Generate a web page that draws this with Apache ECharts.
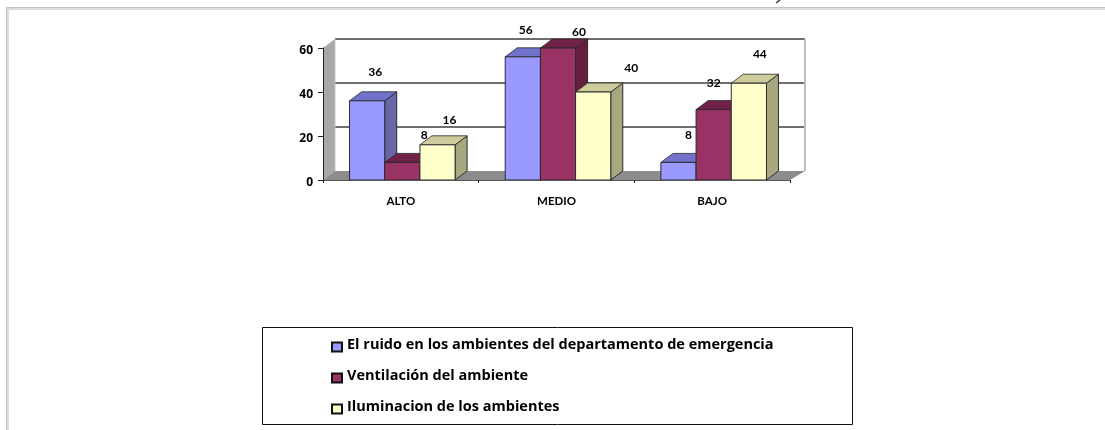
<!DOCTYPE html>
<html><head><meta charset="utf-8">
<style>html,body{margin:0;padding:0;background:#fff}#c{width:1105px;height:430px}#c canvas{filter:blur(.4px)}</style>
<script src="https://cdn.jsdelivr.net/npm/echarts@6/dist/echarts.min.js"></script>
</head><body><div id="c"></div>
<script>
const categories = ['ALTO', 'MEDIO', 'BAJO'];
const ruido = [36, 56, 8];
const ventilacion = [8, 60, 32];
const iluminacion = [16, 40, 44];
const seriesNames = ['El ruido en los ambientes del departamento de emergencia', 'Ventilación del ambiente', 'Iluminacion de los ambientes'];
const yTicks = [0, 20, 40, 60];
const labelNudgeRuido = [[8, -29], [3, -27], [10, -27]];
const labelNudgeVentilacion = [[22, -27], [21, -16], [0, -26]];
const labelNudgeIluminacion = [[12, -25], [38, -24], [11, -29]];

const DX = 12, DY = -9, BAR_RATIO = 0.226, BAR_SHIFT = 1.5;
const FONT = 'Lato, "Open Sans", sans-serif';
const palette = [
  {front:'#9999ff', top:'#7272cc', side:'#6666a8'},
  {front:'#993366', top:'#6f2148', side:'#66203f'},
  {front:'#ffffcc', top:'#cccc9c', side:'#a8a880'}
];
const poly = (pts, fill, stroke, lw) => ({type:'polygon', shape:{points:pts}, style:{fill, stroke: stroke||null, lineWidth: lw===undefined?1:lw}});
const line = (a, b, stroke, lw) => ({type:'line', shape:{x1:a[0],y1:a[1],x2:b[0],y2:b[1]}, style:{stroke, lineWidth:lw}});

function wallItem(params, api){
  const a = api.coord([0, 0]), w = api.size([1, 0])[0];
  const left = a[0] - w/2, right = left + w*categories.length, base = a[1], top = api.coord([0, yTicks[yTicks.length-1]])[1];
  const kids = [
    poly([[left,base],[left,top],[left+DX,top+DY],[left+DX,base+DY]], '#a8a8a8'),
    poly([[left,base],[left+DX,base+DY],[right+DX+3,base+DY],[right,base]], '#8c8c8c')
  ];
  yTicks.slice(1).forEach(v => {
    const y = api.coord([0, v])[1] + DY;
    kids.push(line([left+DX,y],[right+DX+3,y], '#6f6f6f', 2));
  });
  kids.push(line([right+DX+3,top+DY],[right+DX+3,base+DY], '#bdbdbd', 2));
  kids.push(line([left+DX,top+DY],[left+DX,base+DY], '#c4c4c4', 1));
  return {type:'group', children:kids};
}

function barItem(idx, nudges){
  return function(params, api){
    const cat = api.value(0), val = api.value(1);
    const w = api.size([1, 0])[0], bw = w*BAR_RATIO;
    const c = api.coord([cat, val]), b = api.coord([cat, 0]);
    const xL = c[0] + BAR_SHIFT + (idx - 1.5)*bw, xR = xL + bw, yT = c[1], yB = b[1];
    const p = palette[idx];
    const edge = '#2a2a2a';
    return {type:'group', children:[
      poly([[xR,yB],[xR,yT],[xR+DX,yT+DY],[xR+DX,yB+DY]], p.side, edge, 1),
      poly([[xL,yT],[xL+DX,yT+DY],[xR+DX,yT+DY],[xR,yT]], p.top, edge, .8),
      poly([[xL,yB],[xL,yT],[xR,yT],[xR,yB]], p.front, edge, 1),
      {type:'text', z2:50, x:xL+bw/2+nudges[cat][0], y:yT+nudges[cat][1], style:{text:String(val), fill:'#000', font:'bold 12px '+FONT, align:'center', verticalAlign:'middle'}}
    ]};
  };
}
const mk = (vals, i, nudges) => ({
  type:'custom', name:seriesNames[i], renderItem:barItem(i, nudges), z:3+i,
  data:vals.map((v,k)=>[k,v]), encode:{x:0,y:1},
  itemStyle:{color:palette[i].front, borderColor:'#111', borderWidth:1.5}
});

const legendFont = {color:'#000', fontFamily:'"Open Sans", Lato, sans-serif', fontWeight:'bold', fontSize:14.5};
const chart = echarts.init(document.getElementById('c'), null, {renderer:'canvas'});
chart.setOption({
  animation:false,
  backgroundColor:'#fff',
  grid:{left:323, right:315, top:48, bottom:250},
  xAxis:{type:'category', data:categories, boundaryGap:true,
    axisLine:{show:true, lineStyle:{color:'#555', width:1}},
    axisTick:{show:true, length:3, lineStyle:{color:'#222'}},
    axisLabel:{color:'#000', fontFamily:FONT, fontWeight:'bold', fontSize:11.5, margin:15},
    z:10},
  yAxis:{type:'value', min:0, max:60, interval:20,
    axisLine:{show:true, lineStyle:{color:'#222'}},
    axisTick:{show:true, length:5, lineStyle:{color:'#222'}},
    axisLabel:{color:'#000', fontFamily:'"Open Sans", Lato, sans-serif', fontWeight:'bold', fontSize:12, margin:10, verticalAlign:'top', lineHeight:5},
    splitLine:{show:false}, z:10},
  legend:{orient:'vertical', left:331, top:337, padding:0, itemGap:15.5, itemWidth:10, itemHeight:9,
    icon:'rect', selectedMode:false, data:seriesNames,
    formatter:name => '{t|' + name + '}',
    textStyle:Object.assign({}, legendFont, {rich:{t:Object.assign({}, legendFont, {padding:[0,0,5,0]})}})},
  graphic:[
    {type:'rect', shape:{x:262.5,y:327.5,width:590,height:97}, style:{fill:null, stroke:'#111', lineWidth:1}, z:1},
    {type:'rect', shape:{x:6,y:7,width:1099,height:1}, style:{fill:'#c4c4c4'}, silent:true},
    {type:'rect', shape:{x:6,y:8,width:1099,height:2}, style:{fill:'#dcdcdc'}, silent:true},
    {type:'rect', shape:{x:6,y:7,width:1,height:423}, style:{fill:'#c4c4c4'}, silent:true},
    {type:'rect', shape:{x:7,y:8,width:2,height:422}, style:{fill:'#dcdcdc'}, silent:true},
    {type:'line', shape:{x1:776,y1:3,x2:780,y2:0}, style:{stroke:'#333', lineWidth:1.5}, silent:true}
  ],
  series:[
    {type:'custom', name:'walls', renderItem:wallItem, data:[[0,0]], encode:{x:0,y:1}, z:1, silent:true},
    mk(ruido,0,labelNudgeRuido), mk(ventilacion,1,labelNudgeVentilacion), mk(iluminacion,2,labelNudgeIluminacion)
  ]
});
</script></body></html>
